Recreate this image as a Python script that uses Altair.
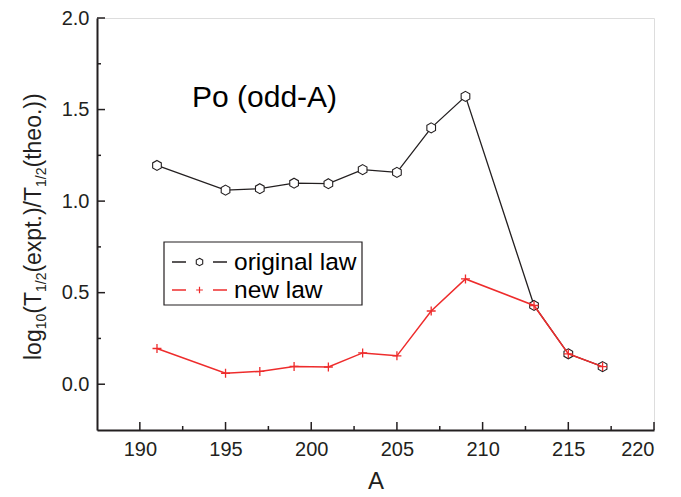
import altair as alt
import pandas as pd

# ---- data ----
A = [191, 195, 197, 199, 201, 203, 205, 207, 209, 213, 215, 217]
original_law = [1.195, 1.060, 1.068, 1.098, 1.095, 1.172, 1.157, 1.400, 1.572, 0.430, 0.166, 0.096]
new_law = [0.195, 0.060, 0.070, 0.097, 0.094, 0.171, 0.155, 0.400, 0.575, 0.430, 0.166, 0.096]

x_major = [190, 195, 200, 205, 210, 215, 220]
x_minor = [192.5, 197.5, 202.5, 207.5, 212.5, 217.5]
y_major = [0.0, 0.5, 1.0, 1.5, 2.0]
y_minor = [0.25, 0.75, 1.25, 1.75]

X_DOMAIN = [187.5, 220]
Y_DOMAIN = [-0.25, 2.0]

W, H = 557, 412
FONT = "Liberation Sans"
INK = "#231f20"
RED = "#ee2c2c"

df = pd.DataFrame({"A": A, "orig": original_law, "new": new_law})

xs = alt.Scale(domain=X_DOMAIN, nice=False, zero=False)
ys = alt.Scale(domain=Y_DOMAIN, nice=False, zero=False)

HEX = "M0,-1L0.866,-0.5L0.866,0.5L0,1L-0.866,0.5L-0.866,-0.5Z"
PLUS = "M-1,0L1,0M0,-1L0,1"

base = alt.Chart(df)

x_enc = alt.X("A:Q", scale=xs, axis=alt.Axis(
    values=x_major, ticks=False, grid=False, domainColor=INK, domainWidth=2,
    labelFont=FONT, labelFontSize=20, labelColor=INK, labelPadding=9,
    title="A", titleFont=FONT, titleFontSize=24, titleFontWeight="normal",
    titleColor=INK, titlePadding=10))

orig_line = base.mark_line(color=INK, strokeWidth=1.3).encode(
    x=x_enc,
    y=alt.Y("orig:Q", scale=ys, axis=alt.Axis(
        values=y_major, format=".1f", ticks=False, grid=False, domainColor=INK,
        domainWidth=2, labelFont=FONT, labelFontSize=20, labelColor=INK,
        labelPadding=8, title=None)))

orig_pts = base.mark_point(shape=HEX, size=100, filled=True, fill="white",
                           stroke=INK, strokeWidth=1.1, opacity=1).encode(
    x=alt.X("A:Q", scale=xs), y=alt.Y("orig:Q", scale=ys))

new_line = base.mark_line(color=RED, strokeWidth=1.5).encode(
    x=alt.X("A:Q", scale=xs), y=alt.Y("new:Q", scale=ys))

new_pts = base.mark_point(shape=PLUS, size=80, filled=False, stroke=RED,
                          strokeWidth=1.3, opacity=1).encode(
    x=alt.X("A:Q", scale=xs), y=alt.Y("new:Q", scale=ys))

# inward ticks
def yticks(vals, length):
    return alt.Chart(pd.DataFrame({"v": vals})).mark_rule(color=INK, strokeWidth=1.5).encode(
        y=alt.Y("v:Q", scale=ys), x=alt.value(0), x2=alt.value(length))

def xticks(vals, length):
    return alt.Chart(pd.DataFrame({"v": vals})).mark_rule(color=INK, strokeWidth=1.5).encode(
        x=alt.X("v:Q", scale=xs), y=alt.value(H), y2=alt.value(H - length))

one = alt.Data(values=[{}])

# annotation
label = alt.Chart(one).mark_text(text="Po (odd-A)", font=FONT, fontSize=30,
                                 align="left", baseline="alphabetic", color="black").encode(
    x=alt.value(95), y=alt.value(89))

# legend (manual)
LX0, LY0, LX1, LY1 = 67, 224, 265, 287
legend_box = alt.Chart(one).mark_rect(fill="white", stroke=INK, strokeWidth=1.2).encode(
    x=alt.value(LX0), x2=alt.value(LX1), y=alt.value(LY0), y2=alt.value(LY1))
r1, r2 = 244, 272
leg = [legend_box]
for ry, col, shape, sz, lab in [(r1, INK, HEX, 55, "original law"), (r2, RED, PLUS, 45, "new law")]:
    leg.append(alt.Chart(one).mark_rule(color=col, strokeWidth=1.5).encode(
        x=alt.value(75), x2=alt.value(89), y=alt.value(ry)))
    leg.append(alt.Chart(one).mark_rule(color=col, strokeWidth=1.5).encode(
        x=alt.value(116), x2=alt.value(130), y=alt.value(ry)))
    if shape == HEX:
        leg.append(alt.Chart(one).mark_point(shape=shape, size=sz, filled=True, fill="white",
                                             stroke=col, strokeWidth=1.1, opacity=1).encode(
            x=alt.value(102.5), y=alt.value(ry)))
    else:
        leg.append(alt.Chart(one).mark_point(shape=shape, size=sz, filled=False,
                                             stroke=col, strokeWidth=1.2, opacity=1).encode(
            x=alt.value(102.5), y=alt.value(ry)))
    leg.append(alt.Chart(one).mark_text(text=lab, font=FONT, fontSize=24.5, align="left",
                                        baseline="middle", color="black").encode(
        x=alt.value(137), y=alt.value(ry + 1)))

# y-axis title with subscripts, built from segments (Arial metrics)
WIDTHS = {"l": 222, "o": 556, "g": 556, "1": 556, "0": 556, "(": 333, "T": 611,
          "/": 278, "2": 556, "e": 556, "x": 500, "p": 556, "t": 278, ".": 278,
          ")": 333, "h": 556}
segments = [("log", False), ("10", True), ("(T", False), ("1/2", True),
            ("(expt.)/T", False), ("1/2", True), ("(theo.))", False)]
MAIN, SUB = 23, 14
bx, by = -56, 342
title_layers = []
cur = by
for txt, sub in segments:
    fs = SUB if sub else MAIN
    title_layers.append(alt.Chart(one).mark_text(
        text=txt, font=FONT, fontSize=fs, angle=270, align="left",
        baseline="alphabetic", color=INK).encode(
        x=alt.value(bx + (5 if sub else 0)), y=alt.value(cur)))
    cur -= sum(WIDTHS[c] for c in txt) / 1000 * fs

chart = alt.layer(
    orig_line, orig_pts, new_line, new_pts,
    yticks(y_major, 8), yticks(y_minor, 4), xticks(x_major, 8), xticks(x_minor, 4),
    label, *leg, *title_layers
).properties(
    width=W, height=H,
    autosize=alt.AutoSizeParams(type="none"),
    padding={"left": 89, "top": 10, "right": 19, "bottom": 62},
).configure_view(stroke=None).configure(background="white")

chart.save("out.html", embed_options={"renderer": "svg", "actions": False})
